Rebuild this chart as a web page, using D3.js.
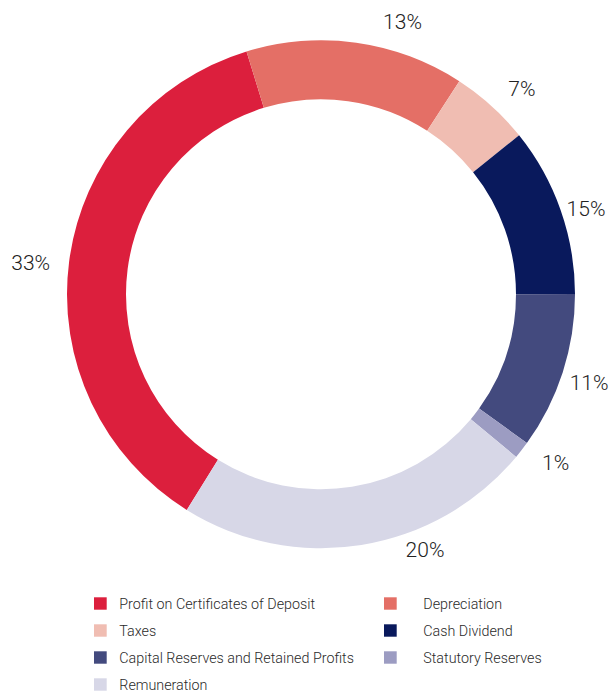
<!DOCTYPE html>
<html>
<head>
<meta charset="utf-8">
<script src="https://cdn.jsdelivr.net/npm/d3@7"></script>
<style>
  html, body { margin: 0; padding: 0; background: #ffffff; }
  svg { display: block; }
</style>
</head>
<body>
<svg id="chart" width="611" height="693"></svg>
<script>
// ---- Data ----
const categories = [
  "Profit on Certificates of Deposit",
  "Depreciation",
  "Taxes",
  "Cash Dividend",
  "Capital Reserves and Retained Profits",
  "Statutory Reserves",
  "Remuneration"
];
// slice shares as drawn
const shares = [36.4, 13.9, 5.07, 10.75, 9.97, 1.1, 22.8];
// printed percentage labels
const labels = ["33%", "13%", "7%", "15%", "11%", "1%", "20%"];
const colors = ["#DC1F3D", "#E46F66", "#F0BDB2", "#09195C", "#434A7E", "#9C9CC2", "#D7D7E7"];

// ---- Layout ----
const W = 611, H = 693;
const cx = 321, cy = 294.3;
const outerR = 254, innerR = 195;
const labelR = 284;
const startDeg = 211.9;
const rad = d => d * Math.PI / 180;
// small label placement tweaks (degrees, px)
const labelTweak = {
  "33%": [-1.2, 8], "13%": [8.7, 0], "7%": [2.3, 3], "15%": [1.5, -5.5],
  "11%": [0.5, -1.5], "1%": [-2.1, 5], "20%": [-13, -8]
};

const data = categories.map((c, i) => ({ cat: c, value: shares[i], label: labels[i], color: colors[i] }));

const svg = d3.select("#chart");
const g = svg.append("g").attr("transform", `translate(${cx},${cy})`);

const pie = d3.pie().sort(null).value(d => d.value)
  .startAngle(rad(startDeg)).endAngle(rad(startDeg) + 2 * Math.PI);
const arcs = pie(data);
const arc = d3.arc().innerRadius(innerR).outerRadius(outerR);

g.selectAll("path.slice").data(arcs).enter().append("path")
  .attr("class", "slice")
  .attr("d", arc)
  .attr("fill", d => d.data.color);

const fontFam = "'Helvetica Neue', Roboto, 'Liberation Sans', Arial, sans-serif";

g.selectAll("text.pct").data(arcs).enter().append("text")
  .attr("class", "pct")
  .attr("x", d => {
    const t = labelTweak[d.data.label] || [0, 0];
    const a = (d.startAngle + d.endAngle) / 2 + rad(t[0]);
    return Math.sin(a) * (labelR + t[1]);
  })
  .attr("y", d => {
    const t = labelTweak[d.data.label] || [0, 0];
    const a = (d.startAngle + d.endAngle) / 2 + rad(t[0]);
    return -Math.cos(a) * (labelR + t[1]);
  })
  .attr("text-anchor", "middle")
  .attr("dominant-baseline", "central")
  .attr("font-family", fontFam)
  .attr("font-weight", 300)
  .attr("font-size", 21)
  .attr("fill", "#222")
  .text(d => d.data.label);

// ---- Legend ----
const legendCols = [94, 384];
const legendRow0 = 603.5, legendRowStep = 27;
const legend = svg.append("g");
data.forEach((d, i) => {
  const col = i % 2, row = Math.floor(i / 2);
  const x = legendCols[col];
  const y = legendRow0 + row * legendRowStep;
  legend.append("rect")
    .attr("x", x).attr("y", y - 6.2)
    .attr("width", 12.7).attr("height", 12.4)
    .attr("fill", d.color);
  legend.append("text")
    .attr("x", x + (col === 0 ? 25.3 : 39.3))
    .attr("y", y)
    .attr("dominant-baseline", "central")
    .attr("font-family", fontFam)
    .attr("font-weight", 300)
    .attr("font-size", 14.3)
    .attr("fill", "#2a2a2a")
    .text(d.cat);
});
</script>
</body>
</html>
